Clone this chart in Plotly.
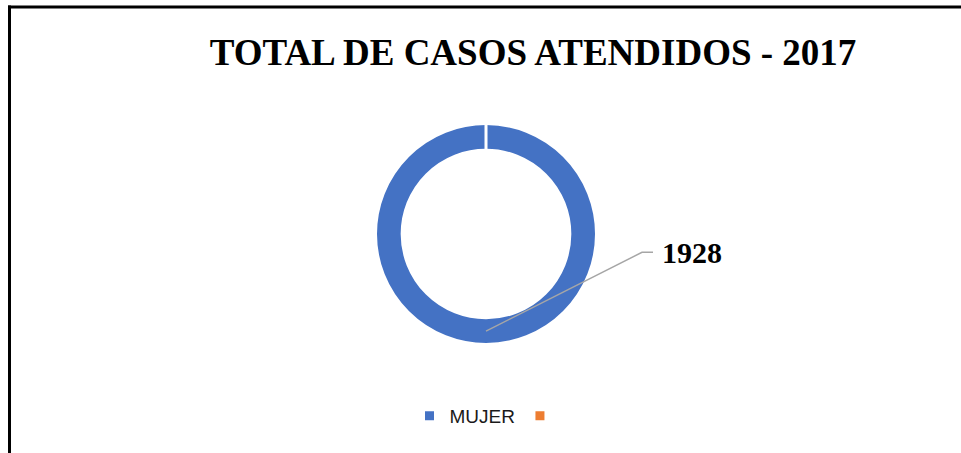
import math
import plotly.graph_objects as go

# ---- data ----
categories = ["MUJER", " "]
values = [1928, 0]
colors = ["#4472C4", "#ED7D31"]
title_text = "TOTAL DE CASOS ATENDIDOS - 2017"

W, H = 961, 453

def px(x):
    return x / W

def py(y):
    return 1 - y / H

# donut geometry (screen pixels), visible radii
cx, cy, R, r_in = 486, 234, 109, 85.3
LW = 3.0  # white slice border
Rd, rd = R + LW / 2, r_in - LW / 2

fig = go.Figure()
fig.add_trace(go.Pie(
    labels=categories,
    values=values,
    hole=rd / Rd,
    sort=False,
    direction="clockwise",
    rotation=0,
    textinfo="none",
    hoverinfo="label+value",
    marker=dict(colors=colors, line=dict(color="white", width=LW)),
    domain=dict(x=[px(cx - Rd), px(cx + Rd)], y=[py(cy + Rd), py(cy - Rd)]),
    showlegend=True,
))

# leader line from the middle of the slice ring at its mid-angle
total = sum(values)
mid_frac = (values[0] / 2) / total
ang = 2 * math.pi * mid_frac  # clockwise from 12 o'clock
rm = (R + r_in) / 2
sx = cx + rm * math.sin(ang)
sy = cy - rm * math.cos(ang)
ex, ey = 642, 252.3
hx = 653

fig.add_shape(type="path",
              path=f"M {px(sx)},{py(sy)} L {px(ex)},{py(ey)} L {px(hx)},{py(ey)}",
              xref="paper", yref="paper", line=dict(color="#A6A6A6", width=1.5))

fig.add_annotation(text=f"<b>{values[0]}</b>", xref="paper", yref="paper",
                   x=px(660), y=py(253), xanchor="left", yanchor="middle",
                   showarrow=False,
                   font=dict(family="Liberation Serif", size=30, color="black"))

# frame lines
fig.add_shape(type="line", xref="paper", yref="paper",
              x0=px(8), x1=px(961), y0=py(7), y1=py(7),
              line=dict(color="black", width=3))
fig.add_shape(type="line", xref="paper", yref="paper",
              x0=px(9.5), x1=px(9.5), y0=py(5.5), y1=py(453),
              line=dict(color="black", width=3))

fig.update_layout(
    width=W, height=H,
    margin=dict(l=0, r=0, t=0, b=0),
    paper_bgcolor="white",
    plot_bgcolor="white",
    title=dict(text=f"<b>{title_text}</b>", x=px(533), xanchor="center",
               xref="paper", yref="paper", y=py(52), yanchor="middle",
               font=dict(family="Liberation Serif", size=37, color="black")),
    legend=dict(orientation="h", x=px(490), xanchor="center",
                y=py(416), yanchor="middle",
                font=dict(family="Liberation Sans", size=19, color="#1a1a1a"),
                itemwidth=30, bgcolor="rgba(0,0,0,0)"),
)

fig.write_html("out.html",
               config={"displayModeBar": False},
               post_script="document.body.style.margin='0px';"
                           "document.body.style.overflow='hidden';")
